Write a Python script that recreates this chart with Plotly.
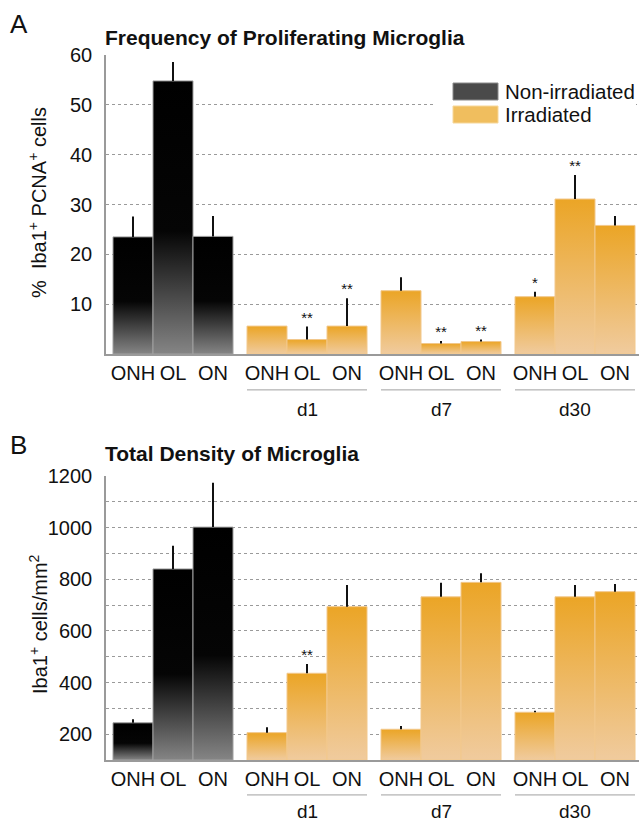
import plotly.graph_objects as go

# ---------------- data ----------------
groups = ["", "d1", "d7", "d30"]          # first group = non-irradiated
sites = ["ONH", "OL", "ON"]

prolif_mean = [23.5, 54.8, 23.6, 5.6, 2.9, 5.6, 12.7, 2.1, 2.5, 11.5, 31.1, 25.8]
prolif_err = [4.1, 3.8, 4.1, 0.0, 2.6, 5.6, 2.7, 0.5, 0.4, 1.0, 4.8, 1.9]
prolif_sig = ["", "", "", "", "**", "**", "", "**", "**", "*", "**", ""]

density_mean = [244, 840, 1002, 206, 436, 694, 219, 732, 788, 285, 732, 752]
density_err = [14, 90, 172, 21, 36, 84, 13, 55, 35, 6, 46, 30]
density_sig = ["", "", "", "", "**", "", "", "", "", "", "", ""]

prolif_ticks = [10, 20, 30, 40, 50, 60]
density_ticks = [200, 300, 400, 500, 600, 700, 800, 900, 1000, 1100, 1200]
density_labels = ["200", "", "400", "", "600", "", "800", "", "1000", "", "1200"]

# ---------------- style ----------------
W, H = 640, 824
FONT = "Liberation Sans, Arial, Helvetica, sans-serif"
GAP = 0.35
RANGE_A = [0, 60]
RANGE_B = [100, 1200]
BLACK_SCALE = [[0, "#858585"], [0.45, "#050505"], [1, "#000000"]]
ORANGE_SCALE = [[0, "#F0CB9E"], [1, "#EBA526"]]

centers = [g * (3 + GAP) + i for g in range(len(groups)) for i in range(len(sites))]
ticktext = [s for _ in groups for s in sites]


def px_x(p):
    return p / W


def px_y(p):
    return 1 - p / H


fig = go.Figure()


def add_panel(means, errs, sigs, xa, ya, base):
    for k, (c, v) in enumerate(zip(centers, means)):
        non_irr = k < len(sites)
        fig.add_trace(go.Scatter(
            x=[c - 0.5, c - 0.5, c + 0.5, c + 0.5, c - 0.5],
            y=[base, v, v, base, base],
            mode="lines", fill="toself",
            fillgradient=dict(type="vertical",
                              colorscale=BLACK_SCALE if non_irr else ORANGE_SCALE),
            line=dict(color="#A0A0A0" if non_irr else "#F2C88C", width=1),
            xaxis=xa, yaxis=ya, showlegend=False, hoverinfo="skip"))
    fig.add_trace(go.Scatter(
        x=centers, y=means, mode="markers",
        marker=dict(size=1, opacity=0),
        error_y=dict(type="data", symmetric=False, array=errs,
                     arrayminus=[0] * len(errs), width=0, thickness=2,
                     color="#111111"),
        xaxis=xa, yaxis=ya, showlegend=False, hoverinfo="skip"))
    tops = [m + e for m, e in zip(means, errs)]
    fig.add_trace(go.Scatter(
        x=centers, y=tops, mode="text", text=sigs,
        textposition="top center",
        textfont=dict(family=FONT, size=15, color="#111111"),
        xaxis=xa, yaxis=ya, showlegend=False, hoverinfo="skip"))


add_panel(prolif_mean, prolif_err, prolif_sig, "x", "y", RANGE_A[0])
add_panel(density_mean, density_err, density_sig, "x2", "y2", RANGE_B[0])

xr = [centers[0] - 0.675, centers[-1] + 0.6]
xdom = [106 / W, 639 / W]
xcommon = dict(range=xr, domain=xdom, tickmode="array", tickvals=centers,
               ticktext=ticktext, showgrid=False, zeroline=False,
               showline=True, linecolor="#9A9A9A", linewidth=2, ticks="",
               automargin=False,
               tickfont=dict(family=FONT, size=20, color="#111111"))
ycommon = dict(showgrid=True, gridcolor="#9A9A9A", griddash="dot", gridwidth=1,
               zeroline=False, showline=True, linecolor="#9A9A9A", linewidth=1.5,
               ticks="", ticklabelstandoff=8, automargin=False,
               tickfont=dict(family=FONT, size=20, color="#111111"))

fig.update_layout(
    template="none",
    width=W, height=H, margin=dict(l=0, r=0, t=0, b=0, pad=0),
    paper_bgcolor="white", plot_bgcolor="white",
    font=dict(family=FONT, color="#111111"),
    showlegend=False,
    xaxis=dict(**xcommon, anchor="y"),
    xaxis2=dict(**xcommon, anchor="y2"),
    yaxis=dict(**ycommon, range=RANGE_A, domain=[px_y(354), px_y(55)],
               tickmode="array", tickvals=prolif_ticks, anchor="x"),
    yaxis2=dict(**ycommon, range=RANGE_B, domain=[px_y(760), px_y(476)],
                tickmode="array", tickvals=density_ticks,
                ticktext=density_labels, anchor="x2"),
)

shapes = []
annotations = []

# group brackets and day labels
for g, name in enumerate(groups):
    if not name:
        continue
    left = centers[g * 3] - 0.5
    right = centers[g * 3 + 2] + 0.5
    mid = (left + right) / 2
    for xref, yref, yline, ytext in (("x", "y domain", -0.12, -0.187),
                                     ("x2", "y2 domain", -0.123, -0.18)):
        shapes.append(dict(type="line", xref=xref, yref=yref,
                           x0=left, x1=right, y0=yline, y1=yline,
                           line=dict(color="#A0A0A0", width=1)))
        annotations.append(dict(xref=xref, yref=yref, x=mid, y=ytext, text=name,
                                showarrow=False, yanchor="middle",
                                font=dict(family=FONT, size=19, color="#111111")))

# legend
shapes.append(dict(type="rect", xref="paper", yref="paper", layer="above",
                   x0=px_x(436), x1=px_x(636), y0=px_y(130), y1=px_y(74),
                   fillcolor="white", line=dict(width=0)))
shapes.append(dict(type="rect", xref="paper", yref="paper", layer="above",
                   x0=px_x(453), x1=px_x(498), y0=px_y(100), y1=px_y(83),
                   fillcolor="#4A4A4A", line=dict(color="#8A8A8A", width=1)))
shapes.append(dict(type="rect", xref="paper", yref="paper", layer="above",
                   x0=px_x(453), x1=px_x(498), y0=px_y(123), y1=px_y(106),
                   fillcolor="#F0BE5E", line=dict(color="#F6D79A", width=1)))
for txt, yc in (("Non-irradiated", 91), ("Irradiated", 114)):
    annotations.append(dict(xref="paper", yref="paper", x=px_x(503), y=px_y(yc),
                            text=txt, showarrow=False, xanchor="left",
                            yanchor="middle",
                            font=dict(family=FONT, size=20.5, color="#111111")))

# titles, panel letters, axis titles
annotations += [
    dict(xref="paper", yref="paper", x=px_x(8), y=px_y(24), text="A",
         showarrow=False, xanchor="left", yanchor="middle",
         font=dict(family=FONT, size=26, color="#111111")),
    dict(xref="paper", yref="paper", x=px_x(8), y=px_y(445), text="B",
         showarrow=False, xanchor="left", yanchor="middle",
         font=dict(family=FONT, size=26, color="#111111")),
    dict(xref="paper", yref="paper", x=px_x(103), y=px_y(37),
         text="<b>Frequency of Proliferating Microglia</b>",
         showarrow=False, xanchor="left", yanchor="middle",
         font=dict(family=FONT, size=21, color="#111111")),
    dict(xref="paper", yref="paper", x=px_x(103), y=px_y(453),
         text="<b>Total Density of Microglia</b>",
         showarrow=False, xanchor="left", yanchor="middle",
         font=dict(family=FONT, size=21, color="#111111")),
    dict(xref="paper", yref="paper", x=px_x(38), y=px_y(203),
         text="%  Iba1<sup>+</sup> PCNA<sup>+</sup> cells", textangle=-90,
         showarrow=False, xanchor="center", yanchor="middle",
         font=dict(family=FONT, size=20, color="#111111")),
    dict(xref="paper", yref="paper", x=px_x(38), y=px_y(624),
         text="Iba1<sup>+</sup> cells/mm<sup>2</sup>", textangle=-90,
         showarrow=False, xanchor="center", yanchor="middle",
         font=dict(family=FONT, size=20, color="#111111")),
]

fig.update_layout(shapes=shapes, annotations=annotations)
fig.write_html("out.html",
               config={"displayModeBar": False},
               post_script="document.body.style.margin='0';"
                           "document.body.style.overflow='hidden';")
